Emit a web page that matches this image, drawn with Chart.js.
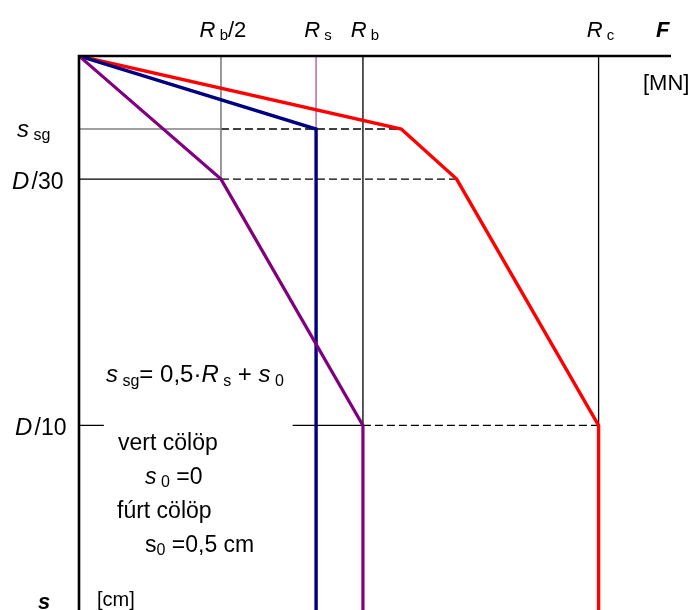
<!DOCTYPE html>
<html>
<head>
<meta charset="utf-8">
<script src="https://cdn.jsdelivr.net/npm/chart.js@4.4.1/dist/chart.umd.min.js"></script>
<style>
  html, body { margin: 0; padding: 0; background: #fff; }
  canvas { display: block; }
</style>
</head>
<body>
<canvas id="grafikon" width="699" height="610"></canvas>
<script>
// F tengely (MN, relatív egység) és s tengely (cm, D/30 = 1)
const fMax = 8.34;
const sMax = 4.5;

// jellemző erők: Rb/2, Rs, Rb, Rc
const erok = [2, 3.34, 4, 7.32];
// jellemző süllyedések: s_sg, D/30, D/10
const sullyedesek = [0.593, 1, 3];

// görbék
const kekF = [0, 3.34, 3.34];
const kekS = [0, 0.593, 4.5];

const liliF = [0, 2, 4, 4];
const liliS = [0, 1, 3, 4.5];

const pirosF = [0, 4.54, 5.32, 7.32, 7.32];
const pirosS = [0, 0.593, 1, 3, 4.5];

// D/10 vonal szakadása a szöveg miatt
const d10Res = [0.35, 3.01];

const FONT = 'Liberation Sans, Arial, sans-serif';

function pontok(fs, ss) {
    return fs.map((f, i) => ({ x: f, y: ss[i] }));
}

function vonal(data, szin, vastag, szaggatott, sorrend) {
    return {
        data: data,
        borderColor: szin,
        borderWidth: vastag,
        borderDash: szaggatott ? [8, 4] : [],
        pointRadius: 0,
        tension: 0,
        fill: false,
        spanGaps: false,
        order: sorrend
    };
}

const [rb2, rs, rb, rc] = erok;
const [ssg, d30, d10] = sullyedesek;

const datasets = [
    // segédvonalak
    vonal([{ x: rb2, y: 0 }, { x: rb2, y: d30 }], '#808080', 1.6, false, 10),
    vonal([{ x: rs, y: 0 }, { x: rs, y: ssg }], '#c080c0', 1.8, false, 10),
    vonal([{ x: rb, y: 0 }, { x: rb, y: d10 }], '#000000', 1.3, false, 10),
    vonal([{ x: rc, y: 0 }, { x: rc, y: d10 }], '#000000', 1.3, false, 10),
    vonal([{ x: 0, y: ssg }, { x: rb2, y: ssg }], '#808080', 1.6, false, 10),
    vonal([{ x: rb2, y: ssg }, { x: pirosF[1], y: ssg }], '#000000', 1.4, true, 10),
    vonal([{ x: 0, y: d30 }, { x: rb2, y: d30 }], '#000000', 1.3, false, 10),
    vonal([{ x: rb2, y: d30 }, { x: pirosF[2], y: d30 }], '#000000', 1.4, true, 10),
    vonal([{ x: 0, y: d10 }, { x: d10Res[0], y: d10 }, { x: 1, y: null }, { x: d10Res[1], y: d10 }, { x: rb, y: d10 }], '#000000', 1.3, false, 10),
    vonal([{ x: rb, y: d10 }, { x: rc, y: d10 }], '#000000', 1.4, true, 10),
    // görbék
    vonal(pontok(pirosF, pirosS), '#ff0000', 3.4, false, 3),
    vonal(pontok(kekF, kekS), '#000080', 3.4, false, 2),
    vonal(pontok(liliF, liliS), '#800080', 3.2, false, 1)
];

function reszek(ctx, x, y, parts) {
    parts.forEach(p => {
        ctx.font = p.f;
        ctx.fillText(p.t, x, y + (p.dy || 0));
        x += ctx.measureText(p.t).width;
    });
}

function szelesseg(ctx, parts) {
    let w = 0;
    parts.forEach(p => { ctx.font = p.f; w += ctx.measureText(p.t).width; });
    return w;
}

const nagy = 'italic 22px ' + FONT;
const kicsi = '15px ' + FONT;
const bal = 'italic 24px ' + FONT;
const balN = '23px ' + FONT;
const erocimkek = [
    [{ t: 'R', f: nagy }, { t: ' b', f: kicsi, dy: 3 }, { t: '/2', f: '22px ' + FONT }],
    [{ t: 'R', f: nagy }, { t: ' s', f: kicsi, dy: 3 }],
    [{ t: 'R', f: nagy }, { t: ' b', f: kicsi, dy: 3 }],
    [{ t: 'R', f: nagy }, { t: ' c', f: kicsi, dy: 3 }]
];
const sullycimkek = [
    { x: 17, parts: [{ t: 's', f: bal }, { t: ' sg', f: '16px ' + FONT, dy: 3 }] },
    { x: 12, parts: [{ t: 'D', f: bal }, { t: ' ', f: '8px ' + FONT }, { t: '/30', f: balN }] },
    { x: 15, parts: [{ t: 'D', f: bal }, { t: ' ', f: '8px ' + FONT }, { t: '/10', f: balN }] }
];

const rajzoloPlugin = {
    id: 'rajzolo',
    afterDatasetsDraw(chart) {
        const ctx = chart.ctx;
        const xs = chart.scales.x;
        const ys = chart.scales.y;
        const a = chart.chartArea;
        ctx.save();
        // tengelyek
        ctx.strokeStyle = '#000';
        ctx.lineWidth = 2.6;
        ctx.beginPath();
        ctx.moveTo(a.left, ys.getPixelForValue(0));
        ctx.lineTo(a.right, ys.getPixelForValue(0));
        ctx.moveTo(xs.getPixelForValue(0), ys.getPixelForValue(0) - 1.3);
        ctx.lineTo(xs.getPixelForValue(0), a.bottom);
        ctx.stroke();

        ctx.fillStyle = '#000';
        ctx.textBaseline = 'alphabetic';
        ctx.textAlign = 'left';

        // erő címkék
        erok.forEach((v, i) => {
            const w = szelesseg(ctx, erocimkek[i]);
            reszek(ctx, xs.getPixelForValue(v) + 2 - w / 2, 37, erocimkek[i]);
        });
        reszek(ctx, 656, 37, [{ t: 'F', f: 'bold italic 22px ' + FONT }]);
        reszek(ctx, 643, 90, [{ t: '[MN]', f: '22px ' + FONT }]);

        // süllyedés címkék
        sullyedesek.forEach((v, i) => {
            const c = sullycimkek[i];
            reszek(ctx, c.x, ys.getPixelForValue(v) + (i === 0 ? 8 : 10), c.parts);
        });
        reszek(ctx, 38, 609, [{ t: 's', f: 'bold italic 22px ' + FONT }]);
        reszek(ctx, 97, 606, [{ t: '[cm]', f: '20px ' + FONT }]);

        // képlet és megjegyzések
        const k = 'italic 24px ' + FONT;
        const ks = '16px ' + FONT;
        const n = '24px ' + FONT;
        reszek(ctx, 106, 382, [
            { t: 's', f: k }, { t: ' sg', f: ks, dy: 4 }, { t: '= 0,5·', f: n },
            { t: 'R', f: k }, { t: ' s', f: ks, dy: 4 }, { t: ' + ', f: n },
            { t: 's', f: k }, { t: ' 0', f: ks, dy: 4 }
        ]);
        const m = '23px ' + FONT;
        reszek(ctx, 118, 450, [{ t: 'vert cölöp', f: m }]);
        reszek(ctx, 145, 484, [{ t: 's', f: 'italic 23px ' + FONT }, { t: ' 0', f: ks, dy: 3 }, { t: ' =0', f: m }]);
        reszek(ctx, 117, 518, [{ t: 'fúrt cölöp', f: m }]);
        reszek(ctx, 145, 552, [{ t: 's', f: m }, { t: '0', f: ks, dy: 3 }, { t: ' =0,5 cm', f: m }]);
        ctx.restore();
    }
};

new Chart(document.getElementById('grafikon'), {
    type: 'line',
    data: { datasets: datasets },
    options: {
        responsive: false,
        animation: false,
        devicePixelRatio: 1,
        layout: { padding: { left: 79, top: 56, right: 28, bottom: 0 } },
        plugins: { legend: { display: false }, tooltip: { enabled: false } },
        scales: {
            x: { type: 'linear', min: 0, max: fMax, display: false },
            y: { type: 'linear', min: 0, max: sMax, reverse: true, display: false }
        }
    },
    plugins: [rajzoloPlugin]
});
</script>
</body>
</html>
